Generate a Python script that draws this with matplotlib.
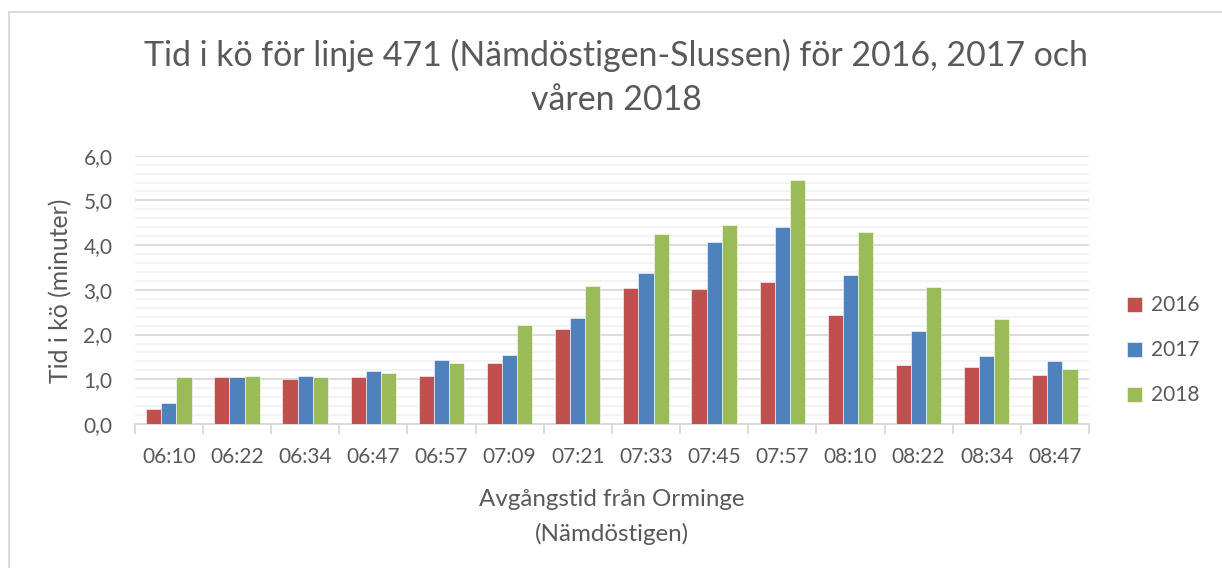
import matplotlib
matplotlib.use("Agg")
import matplotlib.pyplot as plt
from matplotlib.lines import Line2D
from matplotlib.ticker import MultipleLocator, FuncFormatter
import numpy as np

categories = ["06:10", "06:22", "06:34", "06:47", "06:57", "07:09", "07:21",
              "07:33", "07:45", "07:57", "08:10", "08:22", "08:34", "08:47"]
v2016 = [0.34, 1.04, 1.01, 1.04, 1.08, 1.36, 2.12, 3.05, 3.02, 3.17, 2.43, 1.33, 1.28, 1.09]
v2017 = [0.46, 1.04, 1.07, 1.19, 1.44, 1.54, 2.36, 3.37, 4.08, 4.40, 3.34, 2.09, 1.51, 1.42]
v2018 = [1.04, 1.07, 1.05, 1.14, 1.36, 2.21, 3.08, 4.26, 4.46, 5.46, 4.30, 3.06, 2.34, 1.22]
series_names = ["2016", "2017", "2018"]
colors = ["#C0504D", "#4F81BD", "#9BBB59"]
title_lines = ["Tid i kö för linje 471 (Nämdöstigen-Slussen) för 2016, 2017 och", "våren 2018"]
xlabel_lines = ["Avgångstid från Orminge", "(Nämdöstigen)"]
ylabel = "Tid i kö (minuter)"

plt.rcParams['font.family'] = ['Lato', 'DejaVu Sans']
txt = "#595959"

W, H = 1222, 568
fig = plt.figure(figsize=(W / 100, H / 100), dpi=100)
ax = fig.add_axes([134.7 / W, 1 - 424 / H, (1089 - 134.7) / W, (424 - 155.7) / H])

x = np.arange(len(categories))
bw = 1 / 4.5
for i, (vals, c, name) in enumerate(zip([v2016, v2017, v2018], colors, series_names)):
    ax.bar(x + (i - 1) * bw, vals, width=bw, color=c, label=name, zorder=3,
           edgecolor="white", linewidth=0.4)

ax.set_xlim(-0.5, len(categories) - 0.5)
ax.set_ylim(0, 6)
ax.yaxis.set_major_locator(MultipleLocator(1))
ax.yaxis.set_minor_locator(MultipleLocator(0.2))
ax.yaxis.set_major_formatter(FuncFormatter(lambda v, p: f"{v:.1f}".replace(".", ",")))
ax.grid(axis="y", which="major", color="#D9D9D9", linewidth=1.3, zorder=0)
ax.grid(axis="y", which="minor", color="#F2F2F2", linewidth=1.3, zorder=0)
ax.set_axisbelow(True)

ax.set_xticks(x)
ax.set_xticklabels(categories)
ax.set_xticks(np.arange(-0.5, len(categories) + 0.5, 1), minor=True)
ax.tick_params(axis="x", which="major", length=0, pad=16.5, labelsize=15, labelcolor=txt)
ax.tick_params(axis="x", which="minor", length=7, width=1.3, color="#D9D9D9")
ax.tick_params(axis="y", which="both", length=0, pad=16, labelsize=15, labelcolor=txt)

for s in ["top", "right", "left"]:
    ax.spines[s].set_visible(False)
ax.spines["bottom"].set_color("#D9D9D9")
ax.spines["bottom"].set_linewidth(1.3)

# title (two lines, placed by baseline)
fig.text(616.5 / W, 1 - 66 / H, title_lines[0], ha="center", va="baseline",
         fontsize=24.4, color=txt)
fig.text(616.5 / W, 1 - 110 / H, title_lines[1], ha="center", va="baseline",
         fontsize=24.4, color=txt)

# x axis title
fig.text(611.5 / W, 1 - 506 / H, xlabel_lines[0], ha="center", va="baseline",
         fontsize=17.4, color=txt)
fig.text(611.5 / W, 1 - 541 / H, xlabel_lines[1], ha="center", va="baseline",
         fontsize=17.4, color=txt)

# y axis title
fig.text(68 / W, 1 - 290.5 / H, ylabel, ha="center", va="baseline", rotation=90,
         rotation_mode="anchor", fontsize=17.8, color=txt)

leg = ax.legend(loc="center left", bbox_to_anchor=(1.02, 0.274),
                frameon=False, fontsize=15, labelcolor=txt, handlelength=0.75,
                handleheight=0.75, handletextpad=0.4, labelspacing=1.2)
for t in leg.get_texts():
    t.set_color(txt)

# outer chart border (top and left)
fig.add_artist(Line2D([8.5 / W, 8.5 / W], [0, 1 - 11.5 / H], transform=fig.transFigure,
                      color="#D9D9D9", linewidth=1.3))
fig.add_artist(Line2D([8.5 / W, 1], [1 - 11.5 / H, 1 - 11.5 / H], transform=fig.transFigure,
                      color="#D9D9D9", linewidth=1.3))

fig.savefig("out.png", dpi=100, facecolor="white")
